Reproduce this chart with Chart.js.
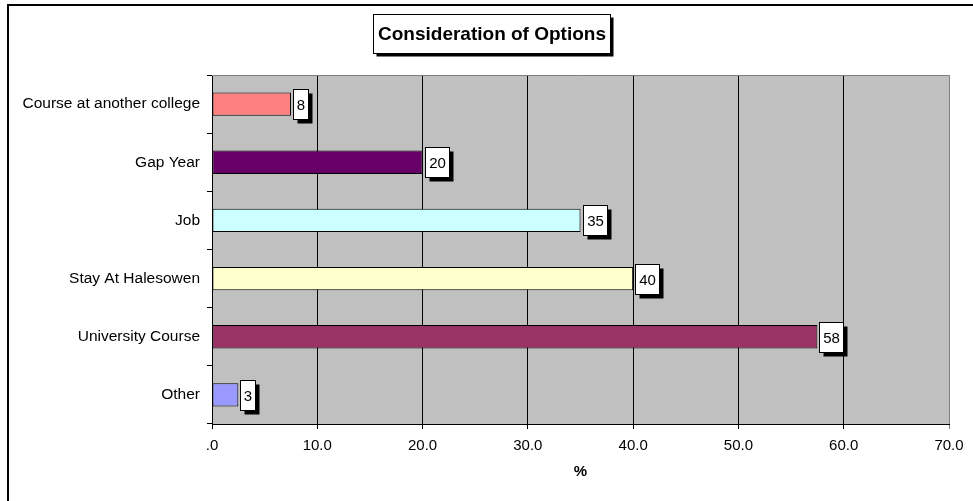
<!DOCTYPE html>
<html>
<head>
<meta charset="utf-8">
<script src="https://cdn.jsdelivr.net/npm/chart.js@4/dist/chart.umd.min.js"></script>
<style>
  body { margin: 0; background: #fff; }
</style>
</head>
<body>
<canvas id="myChart" width="973" height="501"></canvas>
<script>
// datos del grafico
const categorias = ["Course at another college", "Gap Year", "Job", "Stay At Halesowen", "University Course", "Other"];
const valores = [7.5, 20, 35, 40, 57.5, 2.5];
const colores = ["#FF8080", "#660066", "#CCFFFF", "#FFFFCC", "#993366", "#9999FF"];
const etiquetasX = [".0", "10.0", "20.0", "30.0", "40.0", "50.0", "60.0", "70.0"];
const titulo = "Consideration of Options";
const tituloEje = "%";

const fuente = "'Liberation Sans', Arial, sans-serif";

// fondo, marco y area gris
const fondo = {
  id: "fondo",
  beforeDraw(chart) {
    const { ctx, chartArea: a } = chart;
    ctx.save();
    ctx.fillStyle = "#fff";
    ctx.fillRect(0, 0, chart.width, chart.height);
    ctx.strokeStyle = "#000";
    ctx.lineWidth = 2;
    ctx.strokeRect(8, 5, 968, 502);
    ctx.fillStyle = "#C0C0C0";
    ctx.fillRect(a.left, a.top, a.right - a.left, a.bottom - a.top);
    ctx.restore();
  },
  beforeDatasetsDraw(chart) {
    const { ctx, chartArea: a } = chart;
    ctx.save();
    ctx.strokeStyle = "#808080";
    ctx.lineWidth = 1;
    ctx.beginPath();
    ctx.moveTo(a.left, a.top + 0.5);
    ctx.lineTo(a.right + 0.5, a.top + 0.5);
    ctx.lineTo(a.right + 0.5, a.bottom);
    ctx.stroke();
    ctx.restore();
  }
};

// cajitas con los valores
const etiquetas = {
  id: "etiquetas",
  afterDatasetsDraw(chart) {
    const { ctx } = chart;
    const meta = chart.getDatasetMeta(0);
    ctx.save();
    ctx.font = "15px " + fuente;
    meta.data.forEach((bar, i) => {
      const txt = String(Math.round(valores[i]));
      const w = Math.round(ctx.measureText(txt).width + 7);
      const h = 30;
      const x = Math.round(bar.x) + 2.5;
      const y = Math.round(bar.y - h / 2) + 0.5;
      ctx.fillStyle = "#000";
      ctx.fillRect(x + 4, y + 4, w, h);
      ctx.fillStyle = "#fff";
      ctx.fillRect(x, y, w, h);
      ctx.strokeStyle = "#000";
      ctx.lineWidth = 1;
      ctx.strokeRect(x, y, w, h);
      ctx.fillStyle = "#000";
      ctx.textAlign = "center";
      ctx.textBaseline = "middle";
      ctx.fillText(txt, x + w / 2, y + h / 2 + 1);
    });
    ctx.restore();
  }
};

// titulo en caja con sombra
const cajaTitulo = {
  id: "cajaTitulo",
  afterDraw(chart) {
    const { ctx } = chart;
    ctx.save();
    ctx.font = "bold 19px " + fuente;
    const w = Math.round(ctx.measureText(titulo).width + 9);
    const h = 39;
    const x = Math.round(491.5 - w / 2) + 0.5;
    const y = 14.5;
    ctx.fillStyle = "#000";
    ctx.fillRect(x + 3, y + 3, w, h);
    ctx.fillStyle = "#fff";
    ctx.fillRect(x, y, w, h);
    ctx.strokeStyle = "#000";
    ctx.lineWidth = 1;
    ctx.strokeRect(x, y, w, h);
    ctx.fillStyle = "#000";
    ctx.textAlign = "center";
    ctx.textBaseline = "middle";
    ctx.fillText(titulo, x + w / 2, y + h / 2 + 1);
    ctx.restore();
  }
};

new Chart("myChart", {
  type: "bar",
  data: {
    labels: categorias,
    datasets: [{
      data: valores,
      backgroundColor: colores,
      borderColor: "#000",
      borderWidth: 1,
      borderSkipped: false,
      barPercentage: 0.4,
      categoryPercentage: 1
    }]
  },
  options: {
    indexAxis: "y",
    responsive: false,
    animation: false,
    layout: { padding: { top: 75, right: 24, left: 0, bottom: 0 } },
    plugins: {
      legend: { display: false },
      tooltip: { enabled: false }
    },
    scales: {
      x: {
        min: 0,
        max: 70,
        afterFit(scale) { scale.height = 77; },
        ticks: {
          stepSize: 10,
          padding: 8,
          color: "#000",
          font: { family: fuente, size: 15 },
          callback: (v, i) => etiquetasX[i]
        },
        grid: {
          color: (c) => (c.tick && c.tick.value === 70 ? "#808080" : "#000"),
          lineWidth: 1,
          tickLength: 5
        },
        border: { display: true, color: "#000", width: 1 },
        title: {
          display: true,
          text: tituloEje,
          color: "#000",
          font: { family: fuente, size: 15, weight: "bold" },
          padding: { top: 4, bottom: 20 }
        }
      },
      y: {
        afterFit(scale) { scale.width = 212; },
        ticks: {
          padding: 7,
          color: "#000",
          font: { family: fuente, size: 15.5 }
        },
        grid: {
          offset: true,
          drawOnChartArea: false,
          drawTicks: true,
          tickLength: 5,
          color: "#000"
        },
        border: { display: true, color: "#000", width: 1 }
      }
    }
  },
  plugins: [fondo, etiquetas, cajaTitulo]
});
</script>
</body>
</html>
